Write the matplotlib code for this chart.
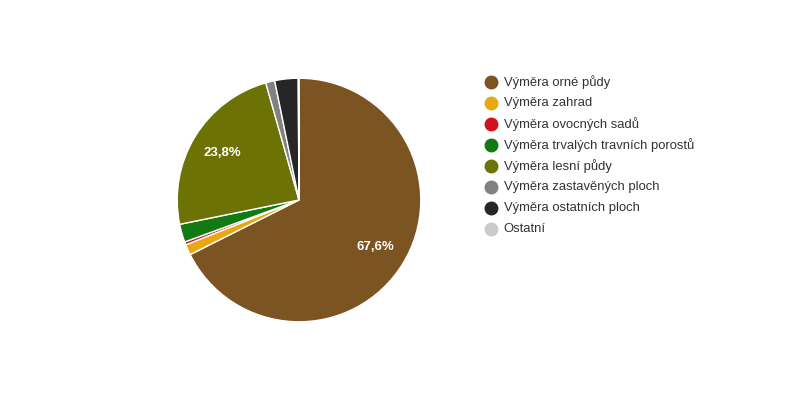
import matplotlib.pyplot as plt

plt.rcParams['font.family'] = ['Liberation Sans', 'DejaVu Sans']

labels = ['Výměra orné půdy', 'Výměra zahrad', 'Výměra ovocných sadů',
          'Výměra trvalých travních porostů', 'Výměra lesní půdy',
          'Výměra zastavěných ploch', 'Výměra ostatních ploch', 'Ostatní']
values = [67.6, 1.4, 0.4, 2.4, 23.8, 1.2, 3.1, 0.1]
colors = ['#7c5421', '#e8a812', '#d2101f', '#127a13', '#6c7304',
          '#818181', '#262626', '#cbcbcb']

fig = plt.figure(figsize=(8, 4), dpi=100)
fig.patch.set_facecolor('white')

# pie centred at (299, 200) px, radius ~123 px
cx, cy, r = 299, 200, 123
ax = fig.add_axes([(cx - r) / 800, (400 - cy - r) / 400, 2 * r / 800, 2 * r / 400])
wedges, texts, autotexts = ax.pie(
    values, colors=colors, startangle=90, counterclock=False,
    autopct=lambda p: (f'{p:.1f}%'.replace('.', ',') if p > 5 else ''),
    pctdistance=0.74, radius=1,
    wedgeprops=dict(edgecolor='white', linewidth=1),
    textprops=dict(color='white', fontsize=9.5, fontweight='bold'))
ax.set_xlim(-1.01, 1.01)
ax.set_ylim(-1.01, 1.01)
ax.set_aspect('equal')
ax.axis('off')

# legend, drawn by hand
x0, y0, step = 491, 82, 21
for i, (lab, col) in enumerate(zip(labels, colors)):
    y = 1 - (y0 + i * step) / 400
    fig.lines.append(plt.Line2D([x0 / 800], [y], marker='o', markersize=9,
                                color=col, transform=fig.transFigure,
                                linestyle='none'))
    fig.text((x0 + 12.5) / 800, y, lab, fontsize=9.4, color='#333333',
             va='center', ha='left')

fig.savefig('out.png', dpi=100)
